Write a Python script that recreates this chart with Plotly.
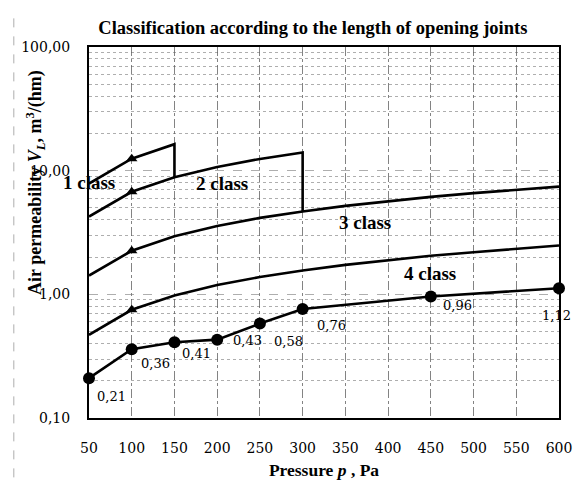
import math
import plotly.graph_objects as go

# ---- data ----
pressure_all = [50, 100, 150, 200, 250, 300, 350, 400, 450, 500, 550, 600]
class1_x = [50, 100, 150]
class1_y = [7.87, 12.50, 16.38]
class2_x = [50, 100, 150, 200, 250, 300]
class2_y = [4.25, 6.75, 8.85, 10.72, 12.44, 14.04]
class3_y = [1.42, 2.25, 2.95, 3.57, 4.15, 4.68, 5.19, 5.67, 6.14, 6.58, 7.01, 7.43]
class4_y = [0.47, 0.75, 0.98, 1.19, 1.38, 1.56, 1.73, 1.89, 2.05, 2.19, 2.34, 2.48]
meas_x = [50, 100, 150, 200, 250, 300, 450, 600]
meas_y = [0.21, 0.36, 0.41, 0.43, 0.58, 0.76, 0.96, 1.12]
meas_labels = ["0,21", "0,36", "0,41", "0,43", "0,58", "0,76", "0,96", "1,12"]
y_tickvals = [0.1, 1, 10, 100]
y_ticktext = ["0,10", "1,00", "10,00", "100,00"]
x_ticks = [50, 100, 150, 200, 250, 300, 350, 400, 450, 500, 550, 600]
class_names = ["1 class", "2 class", "3 class", "4 class"]
class_label_x = [50, 206, 373, 449]
class_label_y = [8.0, 7.9, 3.82, 1.48]

# label offsets (style only, pixels)
label_dx = [22, 24, 22, 30, 29, 29, 27, -3]
label_dy = [18, 14, 11, 1, 18, 16, 9, 27]

SERIF = "Liberation Serif, Times New Roman, serif"
NUMF = "DejaVu Serif, serif"
LW = 2.6

fig = go.Figure()

fig.add_trace(go.Scatter(x=class1_x + [class1_x[-1]], y=class1_y + [class2_y[2]],
                         mode="lines", line=dict(color="black", width=LW),
                         showlegend=False, cliponaxis=False))
fig.add_trace(go.Scatter(x=class2_x + [class2_x[-1]], y=class2_y + [class3_y[5]],
                         mode="lines", line=dict(color="black", width=LW),
                         showlegend=False, cliponaxis=False))
fig.add_trace(go.Scatter(x=pressure_all, y=class3_y, mode="lines",
                         line=dict(color="black", width=LW), showlegend=False, cliponaxis=False))
fig.add_trace(go.Scatter(x=pressure_all, y=class4_y, mode="lines",
                         line=dict(color="black", width=LW), showlegend=False, cliponaxis=False))
fig.add_trace(go.Scatter(x=[100, 100, 100, 100],
                         y=[class1_y[1], class2_y[1], class3_y[1], class4_y[1]],
                         mode="markers", marker=dict(symbol="triangle-up", size=10, color="black"),
                         showlegend=False))
fig.add_trace(go.Scatter(x=meas_x, y=meas_y, mode="lines+markers",
                         line=dict(color="black", width=LW),
                         marker=dict(symbol="circle", size=12, color="black"),
                         showlegend=False, cliponaxis=False))

for xv, yv, t, dx, dy in zip(meas_x, meas_y, meas_labels, label_dx, label_dy):
    fig.add_annotation(x=xv, y=math.log10(yv), text=t, showarrow=False,
                       xanchor="center", yanchor="middle", xshift=dx, yshift=-dy,
                       font=dict(family=NUMF, size=13, color="black"))

for name, lx, ly in zip(class_names, class_label_x, class_label_y):
    fig.add_annotation(x=lx, y=math.log10(ly), text="<b>" + name + "</b>",
                       showarrow=False, font=dict(family=SERIF, size=19, color="black"),
                       xanchor="center", yanchor="middle")

fig.add_annotation(xref="paper", yref="paper", x=-0.115, y=0.636,
                   text="<b>Air permeability <i>V<sub>L</sub></i>, m<sup>3</sup>/(hm)</b>",
                   textangle=-90, showarrow=False,
                   font=dict(family=SERIF, size=18, color="black"),
                   xanchor="center", yanchor="middle")

# faint scan artifact line at far left
fig.add_shape(type="line", xref="paper", yref="paper", x0=-0.16, x1=-0.16, y0=-0.16, y1=1.08,
              line=dict(color="rgba(120,120,120,0.6)", width=1, dash="dash"))

H = 472
vgrid = "rgba(90,90,90,0.75)"
hgrid = "rgba(120,120,120,0.6)"
fig.update_layout(
    width=573, height=H,
    margin=dict(l=81, r=22, t=39, b=H - 410, autoexpand=False),
    paper_bgcolor="white", plot_bgcolor="white",
    font=dict(family=SERIF, size=14, color="black"),
    title=dict(text="<b>Classification according to the length of opening joints</b>",
               x=0.532, xanchor="center", y=1 - 20 / H, yanchor="middle",
               font=dict(family=SERIF, size=18.5, color="black")),
    xaxis=dict(range=[50, 600], tickvals=x_ticks, showgrid=True,
               gridcolor=vgrid, griddash="dashdot", gridwidth=1,
               showline=True, linecolor="black", linewidth=2, mirror=True,
               ticks="", zeroline=False, ticklabelstandoff=16, automargin=False,
               tickfont=dict(family=NUMF, size=14),
               title=dict(text="<b>Pressure <i>p</i> , Pa</b>",
                          font=dict(family=SERIF, size=17.5), standoff=15)),
    yaxis=dict(type="log", range=[-1, 2], tickvals=y_tickvals, ticktext=y_ticktext,
               showgrid=True, gridcolor=hgrid, griddash="dash", gridwidth=1,
               minor=dict(showgrid=True, gridcolor=hgrid, griddash="dot", gridwidth=1,
                          tickvals=[0.2, 0.3, 0.4, 0.5, 0.6, 0.7, 0.8, 0.9,
                                    2, 3, 4, 5, 6, 7, 8, 9,
                                    20, 30, 40, 50, 60, 70, 80, 90]),
               showline=True, linecolor="black", linewidth=2, mirror=True,
               ticks="", zeroline=False, ticklabelstandoff=14, automargin=False,
               tickfont=dict(family=NUMF, size=14)),
)

fig.write_html("out.html")
